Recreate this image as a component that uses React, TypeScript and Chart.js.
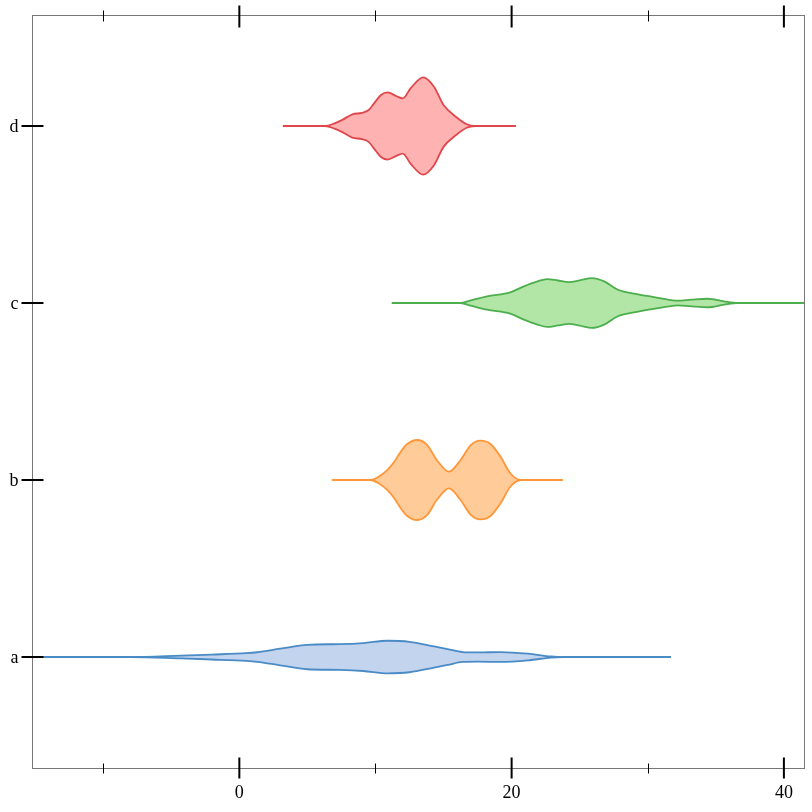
import React, { useEffect, useRef } from "react";
import { Chart, registerables } from "chart.js";

Chart.register(...registerables);

// Category labels (y positions 0..3)
const categories = ["a", "b", "c", "d"];

// x-axis ticks
const majorTicks = [0, 20, 40];
const minorTicks = [-10, 10, 30];

const X_MIN = -15.23;
const X_MAX = 41.55;
const Y_MIN = -0.627;
const Y_MAX = 3.627;

// Violin profiles: x positions and half-widths (in category units)
const aX = [-17, -8, -4.3, -2.0, 0.5, 1.3, 3.0, 5.0, 7.4, 9.1, 10.9, 12.5, 14.3, 15.3, 16.4, 17.5, 19.2, 21.2, 22.9, 23.8, 31.7];
const aW = [0, 0, 0.008, 0.014, 0.022, 0.027, 0.047, 0.069, 0.073, 0.079, 0.092, 0.086, 0.06, 0.045, 0.028, 0.026, 0.028, 0.019, 0.003, 0, 0];

const bX = [6.8, 9.6, 10.2, 10.86, 11.35, 11.84, 12.33, 13.07, 13.8, 14.5, 15.4, 16.25, 17.0, 17.7, 18.45, 19.2, 19.9, 20.7, 23.75];
const bW = [0, 0, 0.017, 0.056, 0.1, 0.158, 0.203, 0.226, 0.197, 0.113, 0.047, 0.113, 0.197, 0.222, 0.203, 0.13, 0.038, 0, 0];

const cX = [11.2, 16.25, 17.0, 18.2, 19.9, 20.9, 21.9, 22.6, 23.4, 24.2, 25.0, 25.9, 26.8, 27.8, 29.0, 30.9, 32.2, 33.2, 34.4, 35.6, 36.6, 43];
const cW = [0, 0, 0.015, 0.038, 0.06, 0.094, 0.122, 0.135, 0.127, 0.118, 0.128, 0.141, 0.122, 0.075, 0.053, 0.028, 0.013, 0.019, 0.024, 0.009, 0, 0];

const dX = [3.2, 6.3, 7.0, 7.6, 8.3, 9.0, 9.5, 9.9, 10.4, 10.9, 11.5, 12.0, 12.6, 13.5, 14.3, 15.0, 15.9, 16.7, 17.3, 20.3];
const dW = [0, 0, 0.015, 0.036, 0.066, 0.074, 0.09, 0.128, 0.175, 0.19, 0.17, 0.156, 0.215, 0.275, 0.222, 0.118, 0.052, 0.01, 0, 0];

const strokeColors = ["#4a8bc6", "#ff9638", "#4cae4c", "#e0474c"];
const fillColors = ["#c3d4ee", "#ffcb98", "#b2e6a6", "#ffb2b2"];

const violins = [
  { xs: aX, ws: aW },
  { xs: bX, ws: bW },
  { xs: cX, ws: cW },
  { xs: dX, ws: dW },
];

const FONT = '"Liberation Serif", "Times New Roman", serif';

const framePlugin = {
  id: "frameTicks",
  afterDraw(chart: any) {
    const ctx = chart.ctx as CanvasRenderingContext2D;
    const { left, right, top, bottom } = chart.chartArea;
    const xs = chart.scales.x;
    const ys = chart.scales.y;
    ctx.save();
    // frame
    ctx.strokeStyle = "#777777";
    ctx.lineWidth = 1;
    ctx.strokeRect(Math.round(left) + 0.5, Math.round(top) + 0.5, Math.round(right - left) - 1, Math.round(bottom - top));
    // ticks
    ctx.strokeStyle = "#000000";
    const tb = Math.round(top) + 0.5;
    const bb = Math.round(bottom) + 0.5;
    majorTicks.forEach((v) => {
      const px = xs.getPixelForValue(v);
      ctx.lineWidth = 2;
      ctx.beginPath();
      ctx.moveTo(px, tb - 10);
      ctx.lineTo(px, tb + 12);
      ctx.moveTo(px, bb - 11);
      ctx.lineTo(px, bb + 10);
      ctx.stroke();
    });
    minorTicks.forEach((v) => {
      const px = Math.round(xs.getPixelForValue(v)) + 0.5;
      ctx.lineWidth = 1;
      ctx.beginPath();
      ctx.moveTo(px, tb - 5);
      ctx.lineTo(px, tb + 6);
      ctx.moveTo(px, bb - 5);
      ctx.lineTo(px, bb + 5);
      ctx.stroke();
    });
    const lb = Math.round(left) + 0.5;
    categories.forEach((_, i) => {
      const py = ys.getPixelForValue(i);
      ctx.lineWidth = 2;
      ctx.beginPath();
      ctx.moveTo(lb - 11, py);
      ctx.lineTo(lb + 11, py);
      ctx.stroke();
    });
    // labels
    ctx.fillStyle = "#000000";
    ctx.font = `18px ${FONT}`;
    ctx.textAlign = "center";
    ctx.textBaseline = "alphabetic";
    majorTicks.forEach((v) => {
      ctx.fillText(String(v), xs.getPixelForValue(v), bb + 29);
    });
    ctx.textAlign = "right";
    categories.forEach((c, i) => {
      ctx.fillText(c, lb - 14, ys.getPixelForValue(i) + 6);
    });
    ctx.restore();
  },
};

export default function App() {
  const ref = useRef<HTMLCanvasElement>(null);
  useEffect(() => {
    const datasets: any[] = [];
    violins.forEach((v, i) => {
      datasets.push({
        label: categories[i] + " upper",
        data: v.xs.map((x, k) => ({ x, y: i + v.ws[k] })),
        borderColor: strokeColors[i],
        backgroundColor: fillColors[i],
        borderWidth: 1.8,
        fill: "+1",
        pointRadius: 0,
        cubicInterpolationMode: "monotone",
      });
      datasets.push({
        label: categories[i] + " lower",
        data: v.xs.map((x, k) => ({ x, y: i - v.ws[k] })),
        borderColor: strokeColors[i],
        backgroundColor: fillColors[i],
        borderWidth: 1.8,
        fill: false,
        pointRadius: 0,
        cubicInterpolationMode: "monotone",
      });
    });
    const chart = new Chart(ref.current!, {
      type: "line",
      data: { datasets },
      options: {
        animation: false,
        responsive: false,
        maintainAspectRatio: false,
        layout: { padding: { left: 0, right: 7, top: 15, bottom: 0 } },
        plugins: {
          legend: { display: false },
          tooltip: { enabled: false },
          filler: { drawTime: "beforeDatasetsDraw" },
        },
        scales: {
          x: {
            type: "linear",
            min: X_MIN,
            max: X_MAX,
            ticks: { display: false },
            grid: { display: false },
            border: { display: false },
            afterFit: (s: any) => {
              s.height = 44;
            },
          },
          y: {
            type: "linear",
            min: Y_MIN,
            max: Y_MAX,
            ticks: { display: false },
            grid: { display: false },
            border: { display: false },
            afterFit: (s: any) => {
              s.width = 32;
            },
          },
        },
      },
      plugins: [framePlugin],
    } as any);
    return () => chart.destroy();
  }, []);
  return (
    <div style={{ position: "fixed", left: 0, top: 0, width: 812, height: 812, background: "#fff" }}>
      <canvas ref={ref} width={812} height={812} style={{ width: 812, height: 812, display: "block" }} />
    </div>
  );
}
